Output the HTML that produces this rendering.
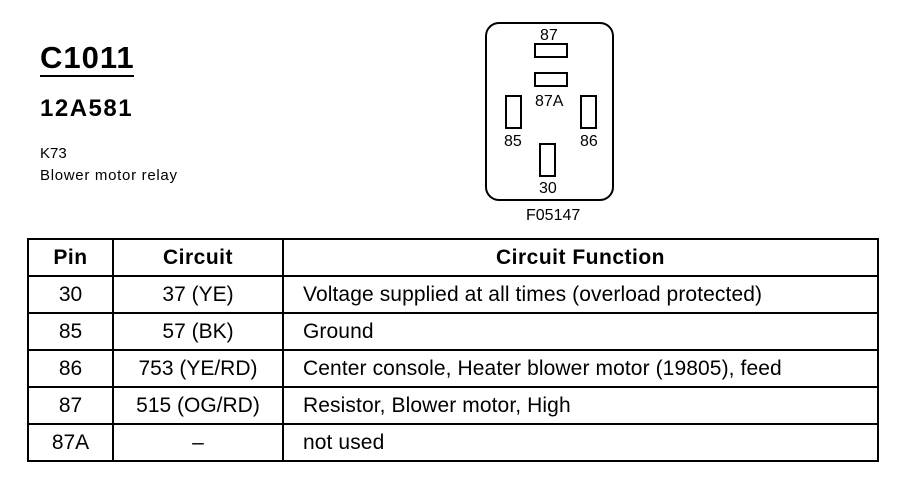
<!DOCTYPE html>
<html><head><style>
body{margin:0;width:904px;height:480px;background:#fff;position:relative;font-family:"Liberation Sans",Arial,sans-serif;color:#000;overflow:hidden}
.a{position:absolute;white-space:nowrap}
.p{position:absolute;border:2px solid #000;box-sizing:border-box}
table{position:absolute;left:27px;top:238px;border-collapse:collapse;width:852px}
td{border:2px solid #000;height:35px;font-size:21px;text-align:center;padding:0}
td.f{text-align:left;padding-left:19px;letter-spacing:0.1px}
tr.h td{font-weight:bold;height:35px;font-size:21px;letter-spacing:0.5px}
</style></head><body>
<div class="a" style="left:40px;top:40px;font-size:31px;font-weight:bold;letter-spacing:1px">C1011</div>
<div style="position:absolute;left:40px;top:75px;width:94px;height:2px;background:#000"></div>
<div class="a" style="left:40px;top:95px;font-size:24px;font-weight:bold;letter-spacing:1.5px">12A581</div>
<div class="a" style="left:40px;top:145px;font-size:15px">K73</div>
<div class="a" style="left:40px;top:167px;font-size:15px;letter-spacing:0.7px">Blower motor relay</div>

<div class="p" style="left:485px;top:22px;width:129px;height:179px;border-radius:14px"></div>
<div class="p" style="left:534px;top:43px;width:34px;height:15px"></div>
<div class="p" style="left:534px;top:72px;width:34px;height:15px"></div>
<div class="p" style="left:505px;top:95px;width:17px;height:34px"></div>
<div class="p" style="left:580px;top:95px;width:17px;height:34px"></div>
<div class="p" style="left:539px;top:143px;width:17px;height:34px"></div>
<div class="a" style="left:540px;top:27px;font-size:16px">87</div>
<div class="a" style="left:535px;top:93px;font-size:16px">87A</div>
<div class="a" style="left:504px;top:133px;font-size:16px">85</div>
<div class="a" style="left:580px;top:133px;font-size:16px">86</div>
<div class="a" style="left:539px;top:180px;font-size:16px">30</div>
<div class="a" style="left:526px;top:207px;font-size:16px">F05147</div>

<table>
<tr class="h"><td style="width:83px">Pin</td><td style="width:168px">Circuit</td><td>Circuit Function</td></tr>
<tr><td>30</td><td>37 (YE)</td><td class="f">Voltage supplied at all times (overload protected)</td></tr>
<tr><td>85</td><td>57 (BK)</td><td class="f">Ground</td></tr>
<tr><td>86</td><td>753 (YE/RD)</td><td class="f">Center console, Heater blower motor (19805), feed</td></tr>
<tr><td>87</td><td>515 (OG/RD)</td><td class="f">Resistor, Blower motor, High</td></tr>
<tr><td>87A</td><td>–</td><td class="f">not used</td></tr>
</table>
</body></html>
